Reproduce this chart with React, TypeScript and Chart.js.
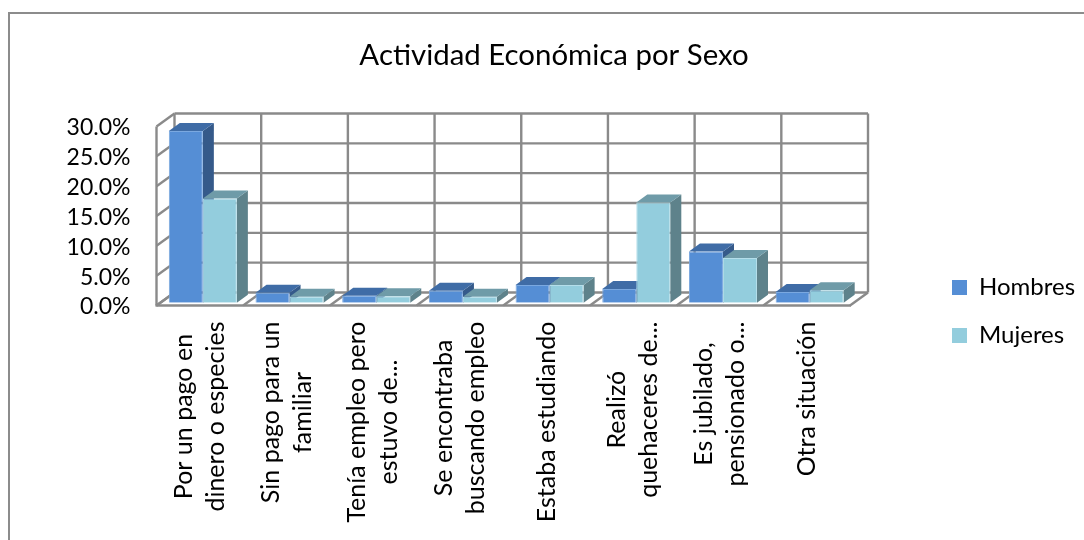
import React, { useEffect, useRef } from "react";
import { Chart, registerables } from "chart.js";

Chart.register(...registerables);

const categories: string[][] = [
  ["Por un pago en", "dinero o especies"],
  ["Sin pago para un", "familiar"],
  ["Tenía empleo pero", "estuvo de..."],
  ["Se encontraba", "buscando empleo"],
  ["Estaba estudiando"],
  ["Realizó", "quehaceres de..."],
  ["Es jubilado,", "pensionado o..."],
  ["Otra situación"],
];
const hombres = [28.8, 1.7, 1.2, 2.0, 3.0, 2.3, 8.6, 1.8];
const mujeres = [17.5, 1.0, 1.1, 1.0, 3.0, 16.8, 7.5, 2.1];

const FONT = "Lato, sans-serif";
const TEXT = "#000000";
const GRID = "#8a8a8a";
const WALL_DX = 18;
const WALL_DY = 13;
const BAR_DX = 11;
const BAR_DY = 8;
const BAR_SHIFT_X = 3;
const BAR_SHIFT_Y = 2.7;
const LABEL_LINE = 32;
const faces = [
  { top: "#3f6ca6", side: "#355a8a" },
  { top: "#6f9ba8", side: "#5e828b" },
];

const scene3d = {
  id: "scene3d",
  afterLayout(chart: any) {
    const t = chart.titleBlock;
    t.left = 9;
    t.right = 1099;
    const l = chart.legend;
    l.left = 928;
    l.right = 1084;
    l.top = 251.5;
    l.bottom = 400;
  },
  beforeDraw(chart: any) {
    const { ctx } = chart;
    ctx.save();
    ctx.fillStyle = "#ffffff";
    ctx.fillRect(0, 0, chart.width, chart.height);
    ctx.strokeStyle = "#8c8c8c";
    ctx.lineWidth = 2;
    ctx.strokeRect(9, 13, 1200, 600);
    ctx.restore();

    // centre the wrapped lines of every rotated category label
    const xs = chart.scales.x;
    ctx.save();
    xs.getLabelItems().forEach((item: any) => {
      if (item.__centred) return;
      ctx.font = item.font.string;
      const lines: string[] = Array.isArray(item.label) ? item.label : [item.label];
      const w = Math.max(...lines.map((s) => ctx.measureText(s).width));
      item.options.textAlign = "center";
      item.options.translation = [
        item.options.translation[0] - ((lines.length - 1) * LABEL_LINE) / 2,
        item.options.translation[1] + w / 2,
      ];
      item.__centred = true;
    });
    chart.scales.y.getLabelItems().forEach((item: any) => {
      if (item.__shifted) return;
      item.options.translation = [item.options.translation[0], item.options.translation[1] + 1.5];
      item.__shifted = true;
    });
    ctx.restore();
  },
  beforeDatasetsDraw(chart: any) {
    const { ctx, chartArea: a, scales } = chart;
    const ys = scales.y;
    const n = categories.length;
    ctx.save();
    ctx.strokeStyle = GRID;
    ctx.lineWidth = 2.4;
    const line = (x1: number, y1: number, x2: number, y2: number) => {
      ctx.beginPath();
      ctx.moveTo(x1, y1);
      ctx.lineTo(x2, y2);
      ctx.stroke();
    };
    ys.ticks.forEach((tk: any) => {
      const y = ys.getPixelForValue(tk.value);
      line(a.left, y, a.left + WALL_DX, y - WALL_DY);
      line(a.left + WALL_DX, y - WALL_DY, a.right + WALL_DX, y - WALL_DY);
    });
    for (let i = 0; i <= n; i++) {
      const x = a.left + ((a.right - a.left) * i) / n;
      line(x + WALL_DX, a.top - WALL_DY, x + WALL_DX, a.bottom - WALL_DY);
      line(x, a.bottom, x + WALL_DX, a.bottom - WALL_DY);
    }
    line(a.left, a.top, a.left, a.bottom);
    line(a.left - 1, a.bottom, a.right + 1, a.bottom);

    // side and top faces of the bars
    for (let c = 0; c < n; c++) {
      [0, 1].forEach((d) => {
        const el = chart.getDatasetMeta(d).data[c];
        const { x, y, base, width } = el.getProps(["x", "y", "base", "width"], true);
        const l = x - width / 2 + BAR_SHIFT_X;
        const r = x + width / 2 + BAR_SHIFT_X;
        const t = y - BAR_SHIFT_Y;
        const b = base - BAR_SHIFT_Y;
        ctx.fillStyle = faces[d].side;
        ctx.beginPath();
        ctx.moveTo(r, t);
        ctx.lineTo(r + BAR_DX, t - BAR_DY);
        ctx.lineTo(r + BAR_DX, b - BAR_DY);
        ctx.lineTo(r, b);
        ctx.closePath();
        ctx.fill();
        ctx.fillStyle = faces[d].top;
        ctx.beginPath();
        ctx.moveTo(l, t);
        ctx.lineTo(l + BAR_DX, t - BAR_DY);
        ctx.lineTo(r + BAR_DX, t - BAR_DY);
        ctx.lineTo(r, t);
        ctx.closePath();
        ctx.fill();
      });
    }
    ctx.restore();
    ctx.save();
    ctx.translate(BAR_SHIFT_X, -BAR_SHIFT_Y);
  },
  afterDatasetsDraw(chart: any) {
    chart.ctx.restore();
  },
};

export default function App() {
  const ref = useRef<HTMLCanvasElement>(null);
  useEffect(() => {
    document.body.style.margin = "0";
    const chart = new Chart(ref.current!, {
      type: "bar",
      data: {
        labels: categories as any,
        datasets: [
          { label: "Hombres", data: hombres, backgroundColor: "#558ed5", borderColor: "#7aa8e0", borderWidth: 1 },
          { label: "Mujeres", data: mujeres, backgroundColor: "#93cddd", borderColor: "#b4deea", borderWidth: 1 },
        ],
      },
      options: {
        animation: false,
        responsive: false,
        layout: { padding: { top: 0, right: 234, bottom: 0, left: 0 } },
        datasets: { bar: { categoryPercentage: 0.785, barPercentage: 1 } },
        plugins: {
          title: {
            display: true,
            text: "Actividad Económica por Sexo",
            color: TEXT,
            font: { family: FONT, size: 29.4, weight: "normal", lineHeight: 30 / 29.4 },
            padding: { top: 41, bottom: 55.5 },
          },
          legend: {
            position: "chartArea",
            align: "start",
            labels: {
              color: TEXT,
              font: { family: FONT, size: 24 },
              boxWidth: 15,
              boxHeight: 15,
              padding: 24,
              generateLabels: (c: any) =>
                Chart.defaults.plugins.legend.labels.generateLabels(c).map((it: any) => ({ ...it, lineWidth: 0 })),
            },
          },
          tooltip: { enabled: false },
        },
        scales: {
          x: {
            grid: { display: false, drawTicks: false },
            border: { display: false },
            afterFit: (s: any) => { s.height = 234.5; },
            ticks: {
              autoSkip: false,
              minRotation: 90,
              maxRotation: 90,
              padding: 16,
              color: TEXT,
              font: { family: FONT, size: 25, lineHeight: LABEL_LINE / 25 },
            },
          },
          y: {
            min: 0,
            max: 30,
            grid: { display: false, drawTicks: false },
            border: { display: false },
            afterFit: (s: any) => { s.width = 156.5; },
            ticks: {
              stepSize: 5,
              autoSkip: false,
              padding: 26,
              color: TEXT,
              font: { family: FONT, size: 23 },
              callback: (v: any) => Number(v).toFixed(1) + "%",
            },
          },
        },
      },
      plugins: [scene3d],
    } as any);
    return () => chart.destroy();
  }, []);
  return <canvas ref={ref} width={1084} height={540} style={{ display: "block" }} />;
}
